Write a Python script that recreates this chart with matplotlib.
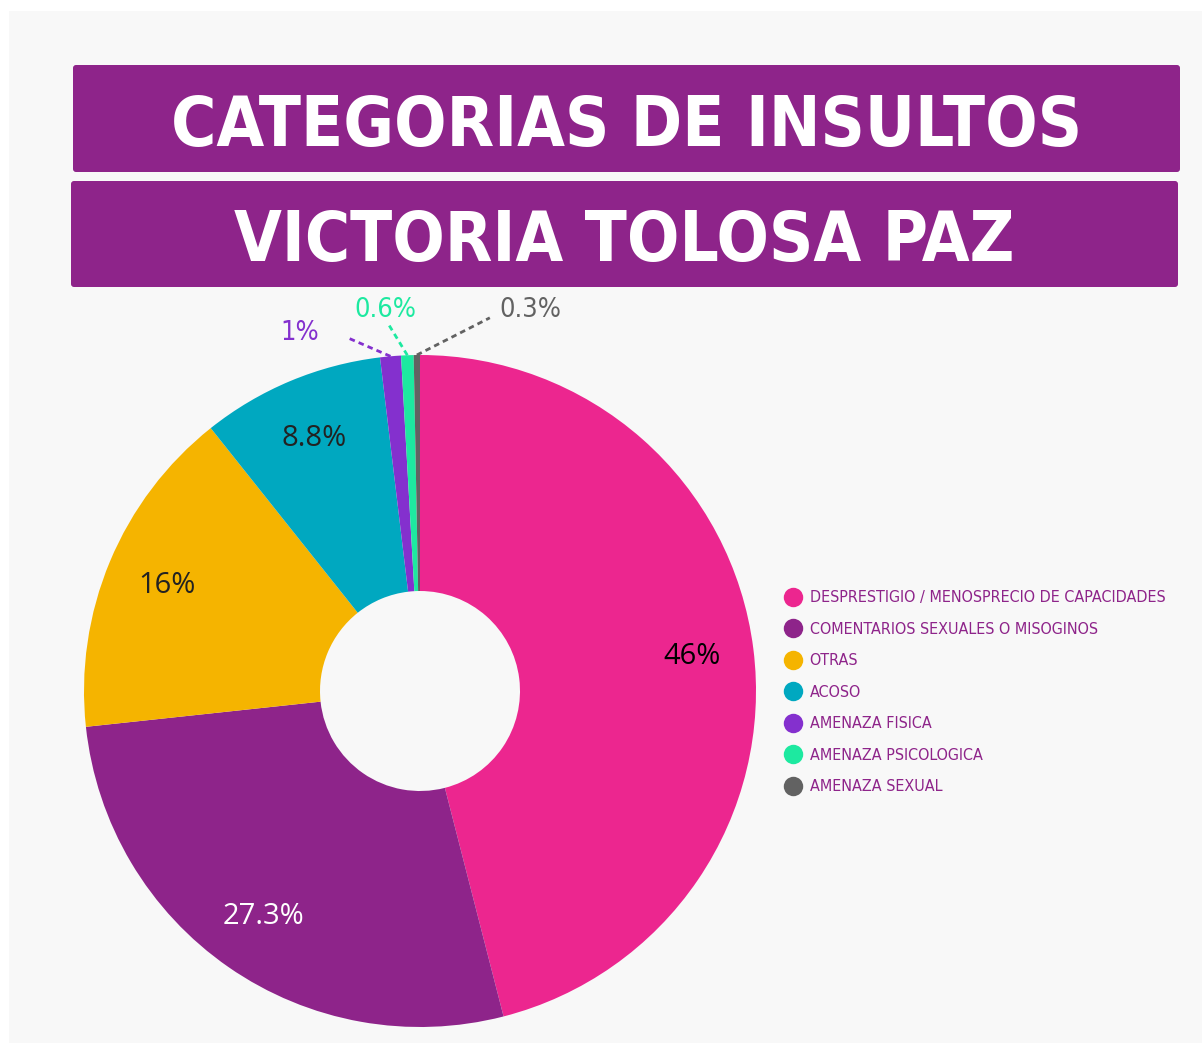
import numpy as np
import matplotlib
matplotlib.use('Agg')
import matplotlib.pyplot as plt
from matplotlib.patches import FancyBboxPatch, Rectangle
from matplotlib.lines import Line2D

# datos
categorias = ['DESPRESTIGIO / MENOSPRECIO DE CAPACIDADES', 'COMENTARIOS SEXUALES O MISOGINOS',
              'OTRAS', 'ACOSO', 'AMENAZA FISICA', 'AMENAZA PSICOLOGICA', 'AMENAZA SEXUAL']
valores = [46, 27.3, 16, 8.8, 1, 0.6, 0.3]
etiquetas = ['46%', '27.3%', '16%', '8.8%', '1%', '0.6%', '0.3%']
colores = ['#EC268F', '#8E248A', '#F5B400', '#00A8C0', '#8430CE', '#1DE9A0', '#626262']
titulo1 = 'CATEGORIAS DE INSULTOS'
titulo2 = 'VICTORIA TOLOSA PAZ'

W, H = 1202, 1045
cx, cy, R = 420, H - 691, 336
cond = dict(family='DejaVu Sans', fontstretch='condensed')

fig = plt.figure(figsize=(W / 100, H / 100), dpi=100, facecolor='white')
ax = fig.add_axes([0, 0, 1, 1])

# fondo gris
ax.add_patch(Rectangle((9, H - 1043), W - 9, 1032, facecolor='#f8f8f8', edgecolor='none', zorder=0))

# cajas de titulo (caja, linea base del texto)
for (x0, y0, x1, y1), base, txt in [((73, 65, 1180, 172), 146, titulo1), ((71, 181, 1178, 287), 261, titulo2)]:
    ax.add_patch(FancyBboxPatch((x0, H - y1), x1 - x0, y1 - y0, boxstyle='round,pad=0,rounding_size=3',
                                facecolor='#8E248A', edgecolor='none', zorder=1))
    ax.text((x0 + x1) / 2, H - base, txt, color='white', fontsize=49.5, fontweight='bold',
            ha='center', va='baseline', zorder=2, **cond)

# dona
wedges, _ = ax.pie(valores, colors=colores, startangle=90, counterclock=False, center=(cx, cy),
                   radius=R, wedgeprops=dict(width=R - 100, edgecolor='none'), frame=True)
ax.set_xlim(0, W)
ax.set_ylim(0, H)
ax.set_aspect('equal')
ax.axis('off')

# etiquetas internas
color_txt = ['black', 'white', '#222222', '#222222']
for i in range(4):
    w = wedges[i]
    ang = np.deg2rad((w.theta1 + w.theta2) / 2)
    r = R * 0.815
    ax.text(cx + r * np.cos(ang), cy + r * np.sin(ang), etiquetas[i], color=color_txt[i],
            fontsize=21, family='Open Sans', ha='center', va='center', zorder=3)

# etiquetas externas con lineas guia (angulo, radio) del inicio de linea y del texto
guia = {4: (101.8, 1.076, 108.5, 1.124), 5: (95.0, 1.099, 95.2, 1.139), 6: (79.4, 1.13, 73.9, 1.18)}
for i, (a1, r1, a2, r2) in guia.items():
    w = wedges[i]
    ang = np.deg2rad((w.theta1 + w.theta2) / 2)
    x0, y0 = cx + R * np.cos(ang), cy + R * np.sin(ang)
    x1, y1 = cx + R * r1 * np.cos(np.deg2rad(a1)), cy + R * r1 * np.sin(np.deg2rad(a1))
    ax.plot([x0, x1], [y0, y1], color=colores[i], lw=2, ls=(0, (2, 1.5)), zorder=3)
    ax.text(cx + R * r2 * np.cos(np.deg2rad(a2)), cy + R * r2 * np.sin(np.deg2rad(a2)), etiquetas[i],
            color=colores[i], fontsize=19.5, ha='center', va='center', zorder=3, **cond)

# leyenda
handles = [Line2D([], [], marker='o', ls='none', markersize=14, markerfacecolor=c, markeredgecolor='none')
           for c in colores]
ax.legend(handles, categorias, loc='upper left', bbox_to_anchor=(777 / W, 1 - 584 / H), frameon=False,
          labelcolor='#8E248A', prop=dict(size=11.5, family='DejaVu Sans', stretch='condensed'),
          handletextpad=0.45, labelspacing=1.03, handlelength=1.2, borderaxespad=0)

fig.savefig('out.png', dpi=100, facecolor='white')
